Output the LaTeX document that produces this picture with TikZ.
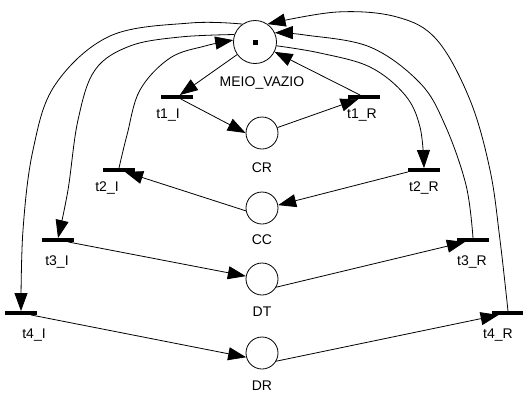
\documentclass[tikz,border=0pt]{standalone}
\usepackage{fontspec}
\setmainfont{Liberation Sans}
\usetikzlibrary{arrows.meta}
\begin{document}
\begin{tikzpicture}[x=1pt,y=-1pt, line join=round, font=\fontsize{14}{16}\selectfont,
		place/.style={draw, circle, line width=0.8pt, minimum size=32pt, inner sep=0pt},
		trans/.style={rectangle, fill=black, minimum width=32pt, minimum height=3.5pt, inner sep=0pt},
		arc/.style={line width=0.8pt, -{Triangle[length=18pt,width=13pt]}},
		label distance=8pt]
	\useasboundingbox (0,0) rectangle (523,392);
	
	%	\draw[color=gray!50,dashed] (0,0) grid[step=20] (523,392);
	
	% places
	\node[place, minimum size=43pt, label={[xshift=7pt,label distance=9.5pt]below:MEIO\_VAZIO}] (MV) at (255,42) {};
	\fill (MV.center) ++(-2.5,-2.5) rectangle ++(5,5);
	\node[place, label={[label distance=10pt]below:CR}] (CR) at (262,133) {};
	\node[place, label={[label distance=6.5pt]below:CC}] (CC) at (262,208) {};
	\node[place, label=below:DT] (DT) at (262,279) {};
	\node[place, label={[label distance=7.5pt]below:DR}] (DR) at (262,353) {};
	
	% transitions
	\node[trans, label={[xshift=-9pt,label distance=6.5pt]below:t1\_I}] (t1I) at (177,97) {};
	\node[trans, label={[xshift=-2pt,label distance=6.5pt]below:t1\_R}] (t1R) at (364,97) {};
	\node[trans, label={[xshift=-12pt,label distance=6.5pt]below:t2\_I}] (t2I) at (119,170) {};
	\node[trans, label={[label distance=6.5pt]below:t2\_R}] (t2R) at (424,170) {};
	\node[trans, label={[xshift=-1pt,label distance=10.5pt]below:t3\_I}] (t3I) at (58,240) {};
	\node[trans, label={[xshift=-1pt,label distance=10.5pt]below:t3\_R}] (t3R) at (473,240) {};
	\node[trans, label={[xshift=13pt,label distance=10.5pt]below:t4\_I}] (t4I) at (21,313) {};
	\node[trans, label={[xshift=-10pt,label distance=10.5pt]below:t4\_R}] (t4R) at (508,313) {};
	
	% straight arcs
	\draw[arc] (MV) -- (t1I);
	\draw[arc] (t1I) -- (CR.west);
	\draw[arc] (CR) -- (t1R);
	\draw[arc] (t1R) -- (MV);
	\draw[arc] (CC.190) -- (t2I);
	\draw[arc] (t2R.south west) -- (CC.10);
	\draw[arc] (t3I) -- (DT.170);
	\draw[arc] (DT.-30) -- (t3R);
	\draw[arc] (t4I) -- (DR.195);
	\draw[arc] (DR.-30) -- (t4R);
	
	% curved arcs around the net
	\draw[arc] plot[smooth,tension=0.6] coordinates {(MV.125) (190,23) (110,36) (55,85) (33,150) (23,230) (t4I.north)};
	\draw[arc] plot[smooth,tension=0.6] coordinates {(MV.160) (180,37) (130,46) (95,70) (78,120) (68,190) (t3I.north)};
	\draw[arc] plot[smooth,tension=0.6] coordinates {(t2I.north) (127,135) (140,90) (170,58) (205,46) (MV.175)};
	\draw[arc] plot[smooth,tension=0.6] coordinates {(MV.-10) (320,53) (370,67) (405,95) (420,127) (t2R.north)};
	\draw[arc] plot[smooth,tension=0.6] coordinates {(t3R.north) (466,185) (445,125) (420,83) (370,47) (305,35) (MV.25)};
	\draw[arc] plot[smooth,tension=0.6] coordinates {(t4R.north) (500,240) (490,170) (470,100) (437,40) (397,17) (337,12) (MV.55)};
\end{tikzpicture}
\end{document}
